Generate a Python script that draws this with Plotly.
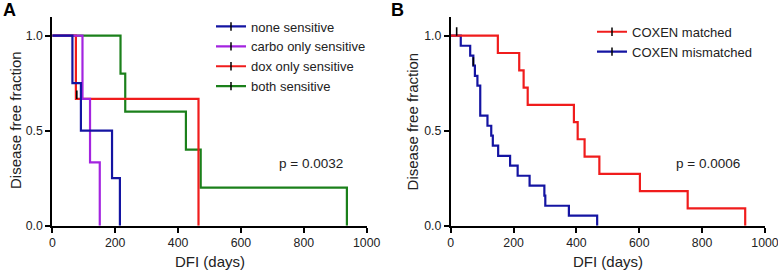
import plotly.graph_objects as go

# ---------------- Data ----------------
# Panel A: Kaplan-Meier steps (time in days, disease free fraction)
none_t = [0, 64, 91, 190, 215]
none_s = [1.0, 0.75, 0.5, 0.25, 0.0]
carbo_t = [0, 96, 120, 151]
carbo_s = [1.0, 0.667, 0.333, 0.0]
dox_t = [0, 75, 78, 465]
dox_s = [1.0, 0.667, 0.667, 0.0]
both_t = [0, 217, 232, 425, 472, 937]
both_s = [1.0, 0.8, 0.6, 0.4, 0.2, 0.0]
# censored observations, panel A
dox_cens_t = [78]
dox_cens_s = [0.667]

# Panel B
matched_t = [0, 150, 218, 232, 245, 392, 404, 426, 473, 602, 754, 937]
matched_s = [1.0, 0.909, 0.818, 0.727, 0.636, 0.545, 0.455, 0.364, 0.273, 0.182, 0.091, 0.0]
mism_t = [0, 19, 32, 62, 72, 77, 85, 94, 117, 129, 134, 151, 189, 213, 251, 298, 301, 376, 466]
mism_s = [1.0, 1.0, 0.947, 0.895, 0.842, 0.789, 0.737, 0.579, 0.526, 0.474, 0.421, 0.368,
          0.316, 0.263, 0.211, 0.158, 0.105, 0.053, 0.0]
mism_cens_t = [19, 72]
mism_cens_s = [1.0, 0.842]

names_a = ["none sensitive", "carbo only sensitive", "dox only sensitive", "both sensitive"]
names_b = ["COXEN matched", "COXEN mismatched"]
p_a = "p = 0.0032"
p_b = "p = 0.0006"
x_ticks = [0, 200, 400, 600, 800, 1000]
y_ticks = [0.0, 0.5, 1.0]

# ---------------- Style ----------------
FONT = "Liberation Sans, Arial, sans-serif"
BLUE = "#1414a2"
PURPLE = "#a324e0"
RED = "#f01c1c"
GREEN = "#1b801b"
LW = 2.2
W, H = 778, 274

fig = go.Figure()

def legend_entry(name, color, legend):
    fig.add_trace(go.Scatter(
        x=[None], y=[None], name=name, mode="lines+markers",
        line=dict(color=color, width=LW),
        marker=dict(symbol="line-ns", size=6, color="black",
                    line=dict(color="black", width=1.5)),
        legend=legend, showlegend=True,
        xaxis="x" if legend == "legend" else "x2",
        yaxis="y" if legend == "legend" else "y2",
        hoverinfo="skip"))

def km(t, s, color, xa, ya):
    fig.add_trace(go.Scatter(
        x=t, y=s, mode="lines", line=dict(color=color, width=LW, shape="hv"),
        showlegend=False, xaxis=xa, yaxis=ya, hoverinfo="skip"))

def cens(t, s, xa, ya):
    fig.add_trace(go.Scatter(
        x=t, y=s, mode="markers",
        marker=dict(size=1, color="rgba(0,0,0,0)"),
        error_y=dict(type="data", symmetric=False, array=[0.045] * len(t),
                     arrayminus=[0] * len(t), width=0, thickness=1.6, color="black"),
        showlegend=False, xaxis=xa, yaxis=ya, hoverinfo="skip"))

# legend entries (legend order)
for n, c in zip(names_a, [BLUE, PURPLE, RED, GREEN]):
    legend_entry(n, c, "legend")
for n, c in zip(names_b, [RED, BLUE]):
    legend_entry(n, c, "legend2")

# panel A curves (drawing order: green, red, purple, blue on top)
km(both_t, both_s, GREEN, "x", "y")
km(dox_t, dox_s, RED, "x", "y")
km(carbo_t, carbo_s, PURPLE, "x", "y")
km(none_t, none_s, BLUE, "x", "y")
cens(dox_cens_t, dox_cens_s, "x", "y")

# panel B curves
km(mism_t, mism_s, BLUE, "x2", "y2")
km(matched_t, matched_s, RED, "x2", "y2")
cens(mism_cens_t, mism_cens_s, "x2", "y2")

def px_x(p):
    return p / W

def px_y(p):
    return 1 - p / H

ydom = [px_y(225.7), px_y(16.7)]
axis_common = dict(showline=True, linecolor="black", linewidth=2, ticks="outside",
                   ticklen=5, tickwidth=2, tickcolor="black", showgrid=False,
                   zeroline=False, tickfont=dict(family=FONT, size=12.3, color="#222"),
                   fixedrange=True, automargin=False, ticklabeloverflow="allow")

fig.update_layout(
    width=W, height=H, margin=dict(l=0, r=0, t=0, b=0),
    paper_bgcolor="white", plot_bgcolor="white",
    font=dict(family=FONT, color="#222"),
    xaxis=dict(domain=[px_x(52.3), px_x(366.7)], range=[0, 1000], tickvals=x_ticks,
               anchor="y", **axis_common),
    yaxis=dict(domain=ydom, range=[0, 1.1], tickvals=y_ticks, tickformat=".1f",
               anchor="x", **axis_common),
    xaxis2=dict(domain=[px_x(450.7), px_x(765)], range=[0, 1000], tickvals=x_ticks,
                anchor="y2", **axis_common),
    yaxis2=dict(domain=ydom, range=[0, 1.1], tickvals=y_ticks, tickformat=".1f",
                anchor="x2", **axis_common),
    legend=dict(x=px_x(211), y=px_y(11.5), xanchor="left", yanchor="top",
                font=dict(family=FONT, size=13, color="#222"),
                bgcolor="rgba(0,0,0,0)", tracegroupgap=0),
    legend2=dict(x=px_x(592), y=px_y(16.8), xanchor="left", yanchor="top",
                 font=dict(family=FONT, size=13, color="#222"),
                 bgcolor="rgba(0,0,0,0)", tracegroupgap=0),
    showlegend=True,
)

ann = []
ann.append(dict(text=p_a, x=822, y=0.328, xref="x", yref="y", showarrow=False,
                xanchor="center", yanchor="middle",
                font=dict(family=FONT, size=13.5, color="#222")))
ann.append(dict(text=p_b, x=819, y=0.328, xref="x2", yref="y2", showarrow=False,
                xanchor="center", yanchor="middle",
                font=dict(family=FONT, size=13.5, color="#222")))
for xc, txt in [(210.3, "DFI (days)"), (608, "DFI (days)")]:
    ann.append(dict(text=txt, x=px_x(xc), y=px_y(261), xref="paper", yref="paper",
                    xanchor="center", yanchor="middle",
                    showarrow=False, font=dict(family=FONT, size=15, color="#222")))
for xc, yc in [(15, 120), (412.7, 121.7)]:
    ann.append(dict(text="Disease free fraction", x=px_x(xc), y=px_y(yc), xref="paper",
                    yref="paper", showarrow=False, textangle=-90,
                    xanchor="center", yanchor="middle",
                    font=dict(family=FONT, size=15, color="#222")))
for xc, txt in [(9, "<b>A</b>"), (398, "<b>B</b>")]:
    ann.append(dict(text=txt, x=px_x(xc), y=px_y(10), xref="paper", yref="paper",
                    xanchor="center", yanchor="middle",
                    showarrow=False, font=dict(family=FONT, size=18, color="black")))
fig.update_layout(annotations=ann)

# remove the default 8px body margin of the page so the figure fills the window
fig.write_html("out.html", config={"displayModeBar": False},
               post_script="document.body.style.margin='0px';document.body.style.overflow='hidden';")
